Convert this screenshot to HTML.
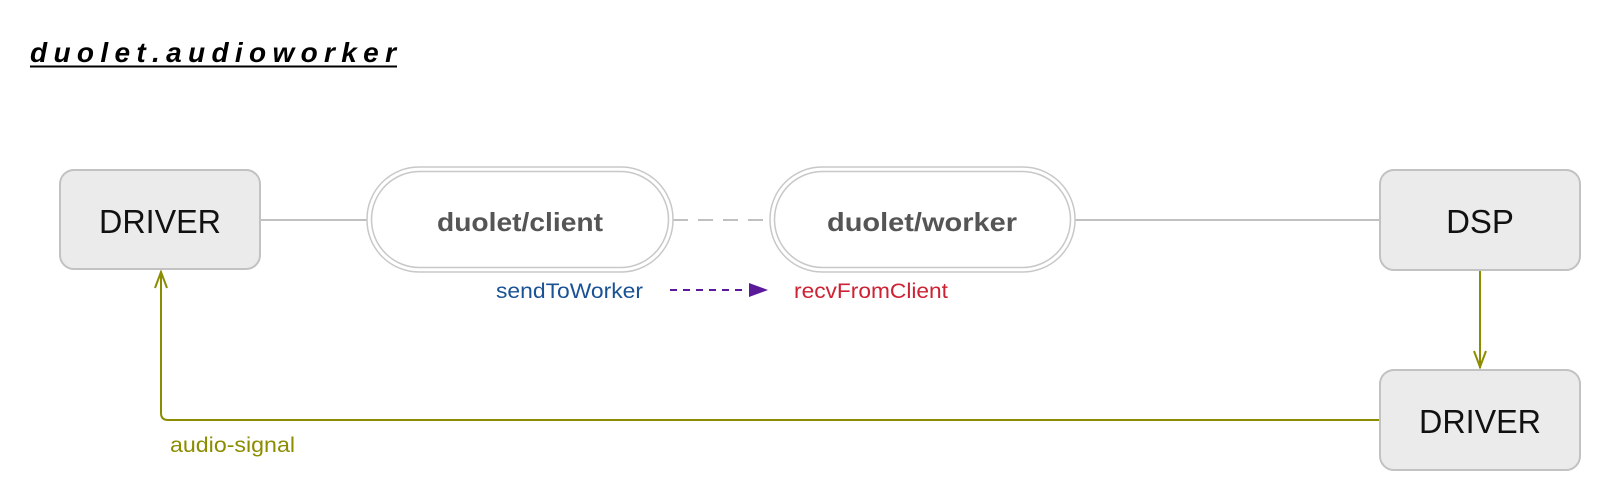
<!DOCTYPE html>
<html><head><meta charset="utf-8"><style>html,body{margin:0;padding:0;background:#fff;}svg{display:block;}</style></head>
<body>
<svg width="1604" height="494" viewBox="0 0 1604 494" xmlns="http://www.w3.org/2000/svg" font-family="Liberation Sans, Helvetica, Arial, sans-serif">
<rect width="1604" height="494" fill="#fff"/>
<text x="30" y="62" font-size="28" font-weight="bold" font-style="italic" textLength="366" lengthAdjust="spacing" fill="#000">duolet.audioworker</text>
<line x1="30" y1="66.5" x2="397" y2="66.5" stroke="#000" stroke-width="2"/>
<!-- connectors -->
<line x1="260" y1="220" x2="367" y2="220" stroke="#c0c0c0" stroke-width="2"/>
<line x1="673" y1="220" x2="770" y2="220" stroke="#c0c0c0" stroke-width="2" stroke-dasharray="15,10"/>
<line x1="1075" y1="220" x2="1380" y2="220" stroke="#c0c0c0" stroke-width="2"/>
<line x1="1480" y1="270" x2="1480" y2="368" stroke="#8c8c00" stroke-width="2"/>
<polyline points="1474,351 1480,367 1486,351" fill="none" stroke="#8c8c00" stroke-width="2"/>
<path d="M1380 420 L168 420 Q161 420 161 413 L161 272" fill="none" stroke="#8c8c00" stroke-width="2"/>
<polyline points="155,288 161,272 167,288" fill="none" stroke="#8c8c00" stroke-width="2"/>
<!-- boxes -->
<rect x="60" y="170" width="200" height="99" rx="14" fill="#ebebeb" stroke="#c2c2c2" stroke-width="2"/>
<text x="160" y="233" font-size="33" text-anchor="middle" fill="#111" textLength="122" lengthAdjust="spacingAndGlyphs">DRIVER</text>
<rect x="1380" y="170" width="200" height="100" rx="14" fill="#ebebeb" stroke="#c2c2c2" stroke-width="2"/>
<text x="1480" y="233" font-size="33" text-anchor="middle" fill="#111">DSP</text>
<rect x="1380" y="370" width="200" height="100" rx="14" fill="#ebebeb" stroke="#c2c2c2" stroke-width="2"/>
<text x="1480" y="433" font-size="33" text-anchor="middle" fill="#111" textLength="122" lengthAdjust="spacingAndGlyphs">DRIVER</text>
<!-- pills -->
<rect x="367" y="167" width="306" height="105" rx="52" fill="#fff" stroke="#c8c8c8" stroke-width="1.5"/>
<rect x="371.5" y="171.5" width="297" height="96" rx="48" fill="#fff" stroke="#c8c8c8" stroke-width="1.5"/>
<text x="520" y="231" font-size="26" font-weight="bold" text-anchor="middle" fill="#555" textLength="166" lengthAdjust="spacingAndGlyphs">duolet/client</text>
<rect x="770" y="167" width="305" height="105" rx="52" fill="#fff" stroke="#c8c8c8" stroke-width="1.5"/>
<rect x="774.5" y="171.5" width="296" height="96" rx="48" fill="#fff" stroke="#c8c8c8" stroke-width="1.5"/>
<text x="922" y="231" font-size="26" font-weight="bold" text-anchor="middle" fill="#555" textLength="190" lengthAdjust="spacingAndGlyphs">duolet/worker</text>
<!-- labels -->
<text x="496" y="298" font-size="21" fill="#1a5296" textLength="147" lengthAdjust="spacingAndGlyphs">sendToWorker</text>
<line x1="670" y1="290" x2="746" y2="290" stroke="#5a1a9a" stroke-width="2" stroke-dasharray="7,6"/>
<polygon points="749,283 768,290 749,297" fill="#5a1a9a"/>
<text x="794" y="298" font-size="21" fill="#cc2233" textLength="154" lengthAdjust="spacingAndGlyphs">recvFromClient</text>
<text x="170" y="452" font-size="21" fill="#8c8c00" textLength="125" lengthAdjust="spacingAndGlyphs">audio-signal</text>
</svg>
</body></html>
